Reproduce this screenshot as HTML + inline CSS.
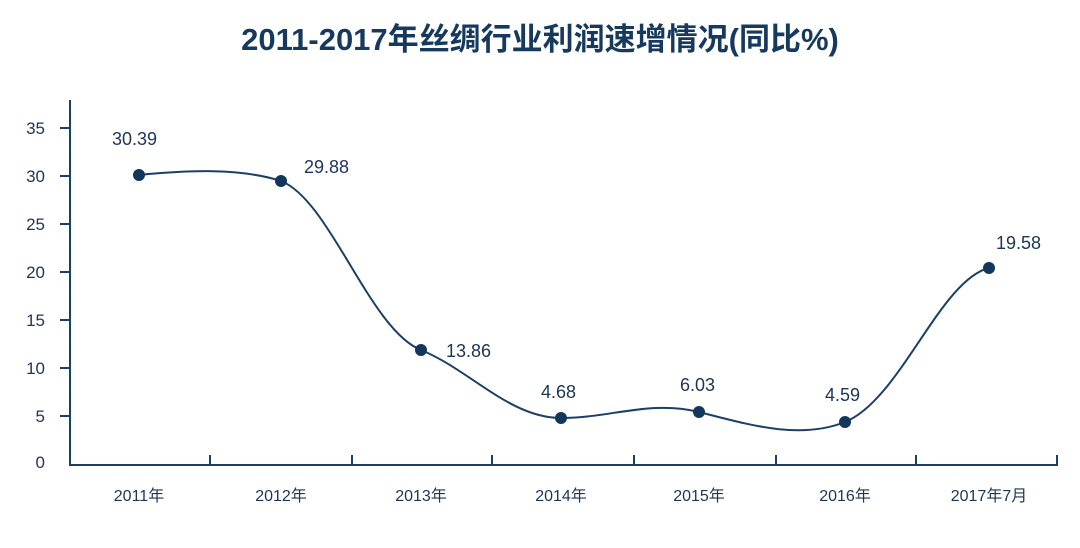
<!DOCTYPE html>
<html><head><meta charset="utf-8"><style>
body{margin:0;background:#fff;width:1080px;height:543px;overflow:hidden}
svg text{font-family:"Liberation Sans","Noto Sans CJK SC",sans-serif;fill:#1d3557}
</style></head><body>
<svg width="1080" height="543" viewBox="0 0 1080 543">
<text x="540" y="50" text-anchor="middle" font-size="31" font-weight="bold" style="fill:#16395e">2011-2017年丝绸行业利润速增情况(同比%)</text>
<g stroke="#1c3f66" stroke-width="2" fill="none">
<line x1="70" y1="100" x2="70" y2="466"/>
<line x1="69" y1="465" x2="1058" y2="465"/>
<line x1="60" y1="128" x2="70" y2="128"/><line x1="60" y1="176" x2="70" y2="176"/>
<line x1="60" y1="224" x2="70" y2="224"/><line x1="60" y1="272" x2="70" y2="272"/>
<line x1="60" y1="320" x2="70" y2="320"/><line x1="60" y1="368" x2="70" y2="368"/>
<line x1="60" y1="416" x2="70" y2="416"/>
<line x1="210" y1="455" x2="210" y2="465"/><line x1="352" y1="455" x2="352" y2="465"/>
<line x1="492" y1="455" x2="492" y2="465"/><line x1="634" y1="455" x2="634" y2="465"/>
<line x1="776" y1="455" x2="776" y2="465"/><line x1="916" y1="455" x2="916" y2="465"/>
<line x1="1057" y1="455" x2="1057" y2="465"/>
<path d="M139,175 C190,170 240,168 281,181 C330,200 370,330 421,350 C470,370 510,418 561,418 C610,418 650,400 699,412 C750,425 800,440 845,422 C900,400 940,280 989,268"/>
</g>
<g fill="#12365c">
<circle cx="139" cy="175" r="6"/><circle cx="281" cy="181" r="6"/><circle cx="421" cy="350" r="6"/>
<circle cx="561" cy="418" r="6"/><circle cx="699" cy="412" r="6"/><circle cx="845" cy="422" r="6"/><circle cx="989" cy="268" r="6"/>
</g>
<g font-size="17" text-anchor="end">
<text x="45" y="134">35</text><text x="45" y="182">30</text><text x="45" y="230">25</text>
<text x="45" y="278">20</text><text x="45" y="326">15</text><text x="45" y="374">10</text>
<text x="45" y="422">5</text><text x="45" y="468">0</text>
</g>
<g font-size="18">
<text x="112" y="145">30.39</text><text x="304" y="173">29.88</text><text x="446" y="357">13.86</text>
<text x="541" y="398">4.68</text><text x="680" y="391">6.03</text><text x="825" y="401">4.59</text>
<text x="996" y="249">19.58</text>
</g>
<g font-size="16" text-anchor="middle">
<text x="139" y="501">2011年</text><text x="281" y="501">2012年</text><text x="421" y="501">2013年</text>
<text x="561" y="501">2014年</text><text x="699" y="501">2015年</text><text x="845" y="501">2016年</text>
<text x="989" y="501">2017年7月</text>
</g>
</svg>
</body></html>
